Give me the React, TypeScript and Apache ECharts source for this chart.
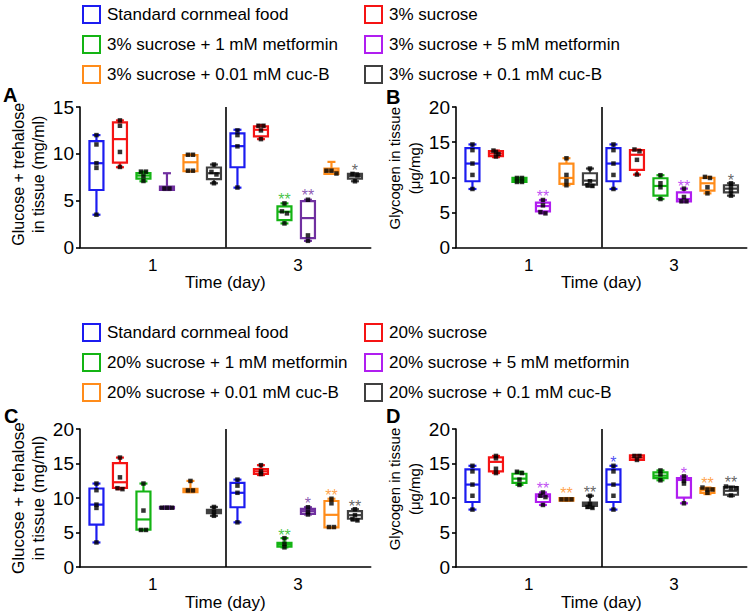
import React, { useEffect, useRef } from 'react';
import * as echarts from 'echarts';

const FONT = '"Liberation Sans", Arial, sans-serif';

const DAYS = ['1', '3'];
const NAMES_3 = [
  'Standard cornmeal food',
  '3% sucrose',
  '3% sucrose + 1 mM metformin',
  '3% sucrose + 5 mM metformin',
  '3% sucrose + 0.01 mM cuc-B',
  '3% sucrose + 0.1 mM cuc-B',
];
const NAMES_20 = [
  'Standard cornmeal food',
  '20% sucrose',
  '20% sucrose + 1 mM metformin',
  '20% sucrose + 5 mM metformin',
  '20% sucrose + 0.01 mM cuc-B',
  '20% sucrose + 0.1 mM cuc-B',
];

const BLUE = '#1c1cf0';
const RED = '#f51414';
const GREEN = '#14b414';
const VIOLET = '#b01ef0';
const DARK_PURPLE = '#7030a0';
const ORANGE = '#ff8c1a';
const GREY = '#404040';

const COLORS_LEGEND = [BLUE, RED, GREEN, VIOLET, ORANGE, GREY];
const COLORS_A = [BLUE, RED, GREEN, DARK_PURPLE, ORANGE, GREY];
const COLORS_B = [BLUE, RED, GREEN, VIOLET, ORANGE, GREY];
const COLORS_C = [BLUE, RED, GREEN, DARK_PURPLE, ORANGE, GREY];
const COLORS_D = [BLUE, RED, GREEN, VIOLET, ORANGE, GREY];

// Box statistics [min, Q1, median, Q3, max]; first 6 = day 1, last 6 = day 3 (treatment order as NAMES)
const BOX_A = [
  [3.5, 6.14, 9.0, 11.36, 12.0],
  [8.57, 9.07, 11.57, 13.36, 13.57],
  [7.07, 7.36, 7.68, 7.93, 8.1],
  [6.14, 6.14, 6.36, 6.5, 7.93],
  [8.14, 8.14, 9.1, 9.86, 9.93],
  [6.86, 7.29, 7.93, 8.54, 8.86],
  [6.39, 8.57, 10.82, 12.18, 12.57],
  [11.57, 11.86, 12.57, 12.93, 13.07],
  [2.57, 2.93, 3.82, 4.39, 4.71],
  [0.71, 1.0, 3.14, 4.96, 5.1],
  [7.86, 7.86, 8.14, 8.43, 9.14],
  [7.07, 7.36, 7.64, 7.86, 7.93],
];
const PTS_A = [
  [12.0, 11.0, 9.0, 8.5, 3.5],
  [13.57, 13.0, 10.2, 8.6],
  [8.1, 8.1, 7.6, 7.1],
  [6.3, 6.3],
  [9.9, 9.9, 8.2, 8.2],
  [8.86, 8.07, 7.8, 6.86],
  [12.5, 12.0, 10.8, 6.4],
  [13.0, 13.0, 12.5, 11.57],
  [4.71, 3.86, 3.64, 2.57],
  [5.1, 1.29, 0.71],
  [8.2, 8.2, 7.9],
  [7.86, 7.7, 7.07],
];
// [slot index, text, y]
const STARS_A: [number, string, number][] = [
  [8, '**', 5.5],
  [9, '**', 6.0],
  [11, '*', 8.7],
];

const BOX_B = [
  [8.33, 9.43, 11.95, 14.14, 14.67],
  [12.86, 13.0, 13.38, 13.71, 13.8],
  [9.33, 9.33, 9.62, 9.9, 9.9],
  [4.86, 5.14, 5.9, 6.38, 6.76],
  [8.86, 9.05, 9.9, 11.95, 12.71],
  [8.67, 8.95, 9.52, 10.57, 11.24],
  [8.33, 9.43, 11.95, 14.14, 14.67],
  [10.38, 11.05, 13.2, 13.86, 13.95],
  [6.9, 7.38, 8.76, 9.86, 10.29],
  [6.48, 6.57, 6.9, 7.86, 8.38],
  [7.71, 8.1, 9.14, 9.9, 10.05],
  [7.38, 7.86, 8.38, 8.86, 9.14],
];
const PTS_B = [
  [14.67, 13.86, 11.95, 10.33, 8.33],
  [13.8, 13.6, 13.3, 12.95],
  [9.9, 9.9, 9.33, 9.33],
  [6.76, 6.0, 5.05, 4.86],
  [12.7, 10.33, 9.48, 8.86],
  [11.24, 9.43, 8.86, 8.76],
  [14.67, 13.86, 11.95, 10.33, 8.33],
  [13.95, 13.7, 12.48, 10.38],
  [10.29, 9.14, 8.57, 6.9],
  [8.38, 7.19, 6.57, 6.57],
  [10.05, 9.9, 8.57, 7.71],
  [9.14, 8.67, 8.0, 7.38],
];
const STARS_B: [number, string, number][] = [
  [3, '**', 7.76],
  [9, '**', 9.3],
  [11, '*', 10.1],
];

const BOX_C = [
  [3.57, 6.14, 9.05, 11.38, 12.1],
  [11.29, 11.48, 12.29, 15.05, 15.86],
  [5.33, 5.43, 6.9, 10.95, 12.1],
  [8.48, 8.5, 8.6, 8.7, 8.76],
  [10.86, 10.86, 11.1, 11.33, 12.48],
  [7.43, 7.81, 8.0, 8.29, 8.71],
  [6.48, 8.67, 10.76, 12.19, 12.67],
  [13.33, 13.48, 13.86, 14.19, 14.76],
  [2.86, 2.95, 3.24, 3.52, 4.19],
  [7.62, 7.71, 8.1, 8.43, 8.67],
  [5.71, 5.76, 7.57, 9.57, 9.9],
  [6.76, 7.0, 7.52, 8.1, 8.38],
];
const PTS_C = [
  [12.1, 11.14, 9.05, 8.57, 3.57],
  [15.86, 13.0, 11.43, 11.29],
  [12.1, 8.19, 5.38, 5.38],
  [8.6, 8.6, 8.6],
  [12.48, 11.1, 11.1],
  [8.71, 8.0, 7.43],
  [12.67, 11.8, 10.76, 6.48],
  [14.76, 13.86, 13.48],
  [4.19, 3.38, 2.86],
  [8.67, 8.0, 7.62],
  [9.9, 9.24, 5.8, 5.8],
  [8.38, 7.52, 6.95, 6.76],
];
const STARS_C: [number, string, number][] = [
  [8, '**', 5.14],
  [9, '*', 9.76],
  [10, '**', 10.95],
  [11, '**', 9.33],
];

const BOX_D = [
  [8.33, 9.43, 11.95, 14.14, 14.67],
  [13.62, 13.86, 15.24, 15.9, 16.1],
  [11.9, 12.19, 12.81, 13.52, 13.81],
  [9.0, 9.43, 10.24, 10.52, 10.81],
  [9.62, 9.62, 9.81, 10.0, 10.0],
  [8.57, 8.86, 9.14, 9.33, 10.33],
  [8.33, 9.43, 11.95, 14.14, 14.67],
  [15.52, 15.52, 15.86, 16.19, 16.19],
  [12.57, 12.9, 13.24, 13.71, 14.0],
  [9.24, 10.05, 12.62, 12.9, 13.14],
  [10.57, 10.76, 11.14, 11.43, 11.52],
  [10.29, 10.48, 11.05, 11.57, 11.67],
];
const PTS_D = [
  [14.67, 13.86, 11.95, 10.33, 8.33],
  [16.1, 15.76, 14.24, 13.62],
  [13.81, 13.62, 12.67, 11.9],
  [10.81, 10.33, 10.14, 9.0],
  [9.81, 9.81, 9.81],
  [10.33, 9.14, 8.71, 8.57],
  [14.67, 13.86, 11.95, 10.33, 8.33],
  [16.1, 16.1, 15.52],
  [14.0, 13.43, 12.57],
  [13.14, 12.48, 12.1, 9.24],
  [11.52, 11.24, 11.24, 10.76],
  [11.67, 11.43, 11.43, 10.38],
];
const STARS_D: [number, string, number][] = [
  [3, '**', 12.0],
  [4, '**', 11.24],
  [5, '**', 11.33],
  [6, '*', 15.7],
  [9, '*', 14.19],
  [10, '**', 12.67],
  [11, '**', 12.76],
];

const Y_TICKS_A = [0, 5, 10, 15];
const Y_TICKS_BCD = [0, 5, 10, 15, 20];

// layout constants
const X_MAX = 12.37;
const DIVIDER_X = 6.2;
const slotX = (slot: number) => slot + 0.7;
const BOX_W = 14;
const CAP_W = 8;
const LW = 2.2;
const GRID_W = 290.7;
const GRID_H = 140.5;

function jitter(vals: number[]): number[] {
  return vals.map((v, i) => {
    const cluster = vals.map((_, j) => j).filter((j) => Math.abs(vals[j] - v) < 0.3);
    if (cluster.length < 2) return 0;
    const k = cluster.indexOf(i);
    return (k - (cluster.length - 1) / 2) * 5;
  });
}

export default function App() {
  const ref = useRef<HTMLDivElement>(null);

  useEffect(() => {
    if (!ref.current) return;
    const chart = echarts.init(ref.current, undefined, { renderer: 'svg' });

    const panels = [
      { box: BOX_A, pts: PTS_A, stars: STARS_A, colors: COLORS_A, names: NAMES_3, ticks: Y_TICKS_A, yName: 'Glucose + trehalose\nin tissue (mg/ml)', yFont: 16, yShift: 6, left: 80, top: 107, letter: 'A', lx: 3, ly: 85 },
      { box: BOX_B, pts: PTS_B, stars: STARS_B, colors: COLORS_B, names: NAMES_3, ticks: Y_TICKS_BCD, yName: 'Glycogen in tissue\n(μg/mg)', yFont: 15, yShift: 18, left: 456, top: 107, letter: 'B', lx: 386, ly: 87 },
      { box: BOX_C, pts: PTS_C, stars: STARS_C, colors: COLORS_C, names: NAMES_20, ticks: Y_TICKS_BCD, yName: 'Glucose + trehalose\nin tissue (mg/ml)', yFont: 17, yShift: 0, left: 80, top: 429, letter: 'C', lx: 4, ly: 406 },
      { box: BOX_D, pts: PTS_D, stars: STARS_D, colors: COLORS_D, names: NAMES_20, ticks: Y_TICKS_BCD, yName: 'Glycogen in tissue\n(μg/mg)', yFont: 15, yShift: 18, left: 456, top: 429, letter: 'D', lx: 386, ly: 406 },
    ];

    const grid: any[] = [];
    const xAxis: any[] = [];
    const yAxis: any[] = [];
    const series: any[] = [];
    const title: any[] = [];

    panels.forEach((p, pi) => {
      grid.push({ left: p.left, top: p.top, width: GRID_W, height: GRID_H, containLabel: false });
      const tickMax = p.ticks[p.ticks.length - 1];
      // hidden value axis for marks
      xAxis.push({ gridIndex: pi, type: 'value', min: 0, max: X_MAX, show: false, position: 'top' });
      // visible category axis for labels
      xAxis.push({
        gridIndex: pi, type: 'category', data: DAYS, position: 'bottom', boundaryGap: true,
        axisLine: { show: true, lineStyle: { color: '#000', width: 1.6 } },
        axisTick: { show: false },
        axisLabel: { color: '#000', fontSize: 17, fontFamily: FONT, margin: 9 },
        name: 'Time (day)', nameLocation: 'middle', nameGap: 22,
        nameTextStyle: { color: '#000', fontSize: 17, fontFamily: FONT },
      });
      yAxis.push({
        gridIndex: pi, type: 'value', min: 0, max: tickMax, interval: 5,
        axisLine: { show: true, lineStyle: { color: '#000', width: 1.6 } },
        axisTick: { show: true, length: 4, lineStyle: { color: '#000', width: 1.6 } },
        axisLabel: { color: '#000', fontSize: 19, fontFamily: FONT, margin: 6 },
        splitLine: { show: false },
        name: p.yName, nameLocation: 'middle', nameGap: 32, nameRotate: 90,
        nameTextStyle: {
          color: '#000', fontSize: p.yFont, fontFamily: FONT, lineHeight: 20,
          padding: [0, 0, 0, p.yShift],
        },
      });
      title.push({
        text: p.letter, left: p.lx, top: p.ly, padding: 0,
        textStyle: { fontSize: 20, fontWeight: 'bold', color: '#000', fontFamily: FONT },
      });

      const xIdx = pi * 2;
      // boxes, one series per treatment
      for (let t = 0; t < 6; t++) {
        const color = p.colors[t];
        const data = [0, 1].map((d) => {
          const slot = d * 6 + t;
          return [slotX(slot), ...p.box[slot]];
        });
        series.push({
          type: 'custom',
          name: p.names[t],
          xAxisIndex: xIdx,
          yAxisIndex: pi,
          dimensions: ['x', 'min', 'q1', 'median', 'q3', 'max'],
          encode: { x: 0, y: [1, 2, 3, 4, 5] },
          itemStyle: { color },
          z: 2,
          data,
          renderItem: (params: any, api: any) => {
            const x = api.value(0);
            const pMin = api.coord([x, api.value(1)]);
            const pQ1 = api.coord([x, api.value(2)]);
            const pMed = api.coord([x, api.value(3)]);
            const pQ3 = api.coord([x, api.value(4)]);
            const pMax = api.coord([x, api.value(5)]);
            const cx = pMed[0];
            const hw = BOX_W / 2;
            const cw = CAP_W / 2;
            const ls = { stroke: color, lineWidth: LW, fill: null };
            return {
              type: 'group',
              children: [
                { type: 'line', shape: { x1: cx, y1: pMax[1], x2: cx, y2: pQ3[1] }, style: ls },
                { type: 'line', shape: { x1: cx, y1: pQ1[1], x2: cx, y2: pMin[1] }, style: ls },
                { type: 'line', shape: { x1: cx - cw, y1: pMax[1], x2: cx + cw, y2: pMax[1] }, style: ls },
                { type: 'line', shape: { x1: cx - cw, y1: pMin[1], x2: cx + cw, y2: pMin[1] }, style: ls },
                {
                  type: 'rect',
                  shape: { x: cx - hw, y: pQ3[1], width: BOX_W, height: Math.max(pQ1[1] - pQ3[1], 0.5) },
                  style: { stroke: color, lineWidth: LW, fill: '#fff' },
                },
                { type: 'line', shape: { x1: cx - hw, y1: pMed[1], x2: cx + hw, y2: pMed[1] }, style: ls },
              ],
            };
          },
        });
      }

      // data points
      const ptData: any[] = [];
      p.pts.forEach((vals, slot) => {
        const offs = jitter(vals);
        vals.forEach((v, k) => {
          ptData.push({ value: [slotX(slot), v], symbolOffset: [offs[k], 0] });
        });
      });
      series.push({
        type: 'scatter',
        xAxisIndex: xIdx,
        yAxisIndex: pi,
        symbol: 'rect',
        symbolSize: 4.5,
        itemStyle: { color: '#000' },
        z: 5,
        silent: true,
        data: ptData,
      });

      // significance stars + divider
      series.push({
        type: 'scatter',
        xAxisIndex: xIdx,
        yAxisIndex: pi,
        symbol: 'circle',
        symbolSize: 1,
        itemStyle: { color: 'rgba(0,0,0,0)' },
        z: 6,
        silent: true,
        data: p.stars.map(([slot, txt, y]) => ({
          value: [slotX(slot), y, txt],
          label: {
            show: true, position: 'inside', formatter: txt, offset: [0, 4],
            color: p.colors[slot % 6], fontSize: 16, fontFamily: FONT,
          },
        })),
        markLine: {
          silent: true,
          symbol: 'none',
          label: { show: false },
          lineStyle: { color: '#000', width: 1.6, type: 'solid' },
          data: [{ xAxis: DIVIDER_X }],
        },
      });
    });

    const legendItem = (name: string, color: string) => ({
      name,
      icon: 'rect',
      itemStyle: { color: '#fff', borderColor: color, borderWidth: 2 },
    });
    const mkLegend = (names: string[], idxs: number[], left: number, top: number) => ({
      orient: 'vertical',
      left, top,
      padding: 0,
      itemWidth: 17,
      itemHeight: 17,
      itemGap: 11,
      selectedMode: false,
      textStyle: { color: '#000', fontSize: 17, fontFamily: FONT, padding: [0, 0, 0, 2] },
      data: idxs.map((i) => legendItem(names[i], COLORS_LEGEND[i])),
    });

    chart.setOption({
      animation: false,
      backgroundColor: '#fff',
      title,
      legend: [
        mkLegend(NAMES_3, [0, 2, 4], 82, 5),
        mkLegend(NAMES_3, [1, 3, 5], 364, 5),
        mkLegend(NAMES_20, [0, 2, 4], 82, 323),
        mkLegend(NAMES_20, [1, 3, 5], 364, 323),
      ],
      grid,
      xAxis,
      yAxis,
      series,
    });

    return () => chart.dispose();
  }, []);

  return (
    <div
      ref={ref}
      style={{ position: 'fixed', left: 0, top: 0, width: 753, height: 612, background: '#fff' }}
    />
  );
}
